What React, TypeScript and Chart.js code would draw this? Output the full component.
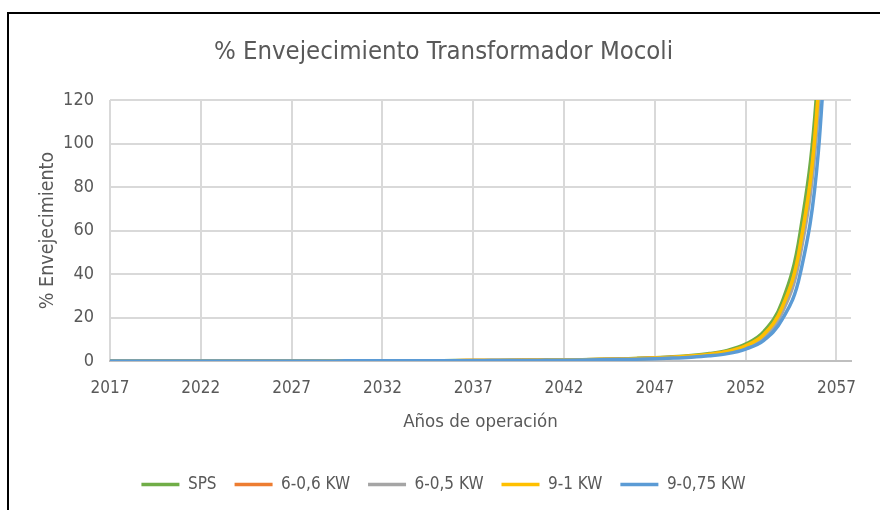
import React, { useEffect, useRef } from "react";
import { Chart, registerables } from "chart.js";

Chart.register(...registerables);

// Operating years on the horizontal axis
const YEARS = [
  2017, 2018, 2019, 2020, 2021, 2022, 2023, 2024, 2025, 2026,
  2027, 2028, 2029, 2030, 2031, 2032, 2033, 2034, 2035, 2036,
  2037, 2038, 2039, 2040, 2041, 2042, 2043, 2044, 2045, 2046,
  2047, 2048, 2049, 2050, 2051, 2052, 2053, 2054, 2055, 2056, 2057,
];

// Accumulated ageing (%) per scenario
const SPS = [
  0.01, 0.01, 0.01, 0.02, 0.02, 0.02, 0.03, 0.03, 0.04, 0.04,
  0.05, 0.06, 0.07, 0.08, 0.09, 0.10, 0.12, 0.14, 0.16, 0.19,
  0.22, 0.26, 0.30, 0.36, 0.43, 0.52, 0.63, 0.77, 0.95, 1.2,
  1.5, 1.9, 2.5, 3.4, 4.9, 7.8, 13.5, 27, 59, 135, 330,
];
const KW_6_06 = [
  0.01, 0.01, 0.01, 0.02, 0.02, 0.02, 0.03, 0.03, 0.03, 0.04,
  0.05, 0.05, 0.06, 0.07, 0.08, 0.09, 0.11, 0.13, 0.15, 0.17,
  0.20, 0.23, 0.27, 0.32, 0.38, 0.46, 0.56, 0.68, 0.84, 1.08,
  1.33, 1.68, 2.2, 3.05, 4.35, 6.9, 12, 24.2, 52.5, 123, 305,
];
const KW_6_05 = [
  0.01, 0.01, 0.01, 0.02, 0.02, 0.02, 0.02, 0.02, 0.03, 0.03,
  0.04, 0.05, 0.06, 0.07, 0.07, 0.08, 0.10, 0.11, 0.13, 0.16,
  0.18, 0.21, 0.25, 0.30, 0.35, 0.43, 0.52, 0.63, 0.78, 0.98,
  1.23, 1.56, 2.05, 2.8, 4.0, 6.4, 11.1, 22.2, 48.5, 116, 290,
];
const KW_9_1 = [
  0.01, 0.01, 0.01, 0.02, 0.02, 0.02, 0.03, 0.03, 0.03, 0.04,
  0.05, 0.05, 0.06, 0.07, 0.08, 0.09, 0.11, 0.13, 0.15, 0.17,
  0.20, 0.23, 0.27, 0.32, 0.39, 0.47, 0.57, 0.69, 0.85, 1.1,
  1.35, 1.7, 2.25, 3.1, 4.4, 7.0, 12.2, 24.5, 53, 124, 308,
];
const KW_9_075 = [
  0.01, 0.01, 0.01, 0.01, 0.01, 0.01, 0.02, 0.02, 0.03, 0.03,
  0.04, 0.04, 0.05, 0.06, 0.06, 0.07, 0.08, 0.10, 0.11, 0.13,
  0.15, 0.18, 0.21, 0.25, 0.30, 0.36, 0.44, 0.54, 0.67, 0.84,
  1.05, 1.33, 1.75, 2.4, 3.4, 5.5, 9.5, 19, 40, 96, 235,
];

const SERIES_NAMES = ["SPS", "6-0,6 KW", "6-0,5 KW", "9-1 KW", "9-0,75 KW"];
const SERIES_VALUES = [SPS, KW_6_06, KW_6_05, KW_9_1, KW_9_075];
const SERIES_COLORS = ["#70AD47", "#ED7D31", "#A5A5A5", "#FFC000", "#5B9BD5"];

const X_TICKS = [2017, 2022, 2027, 2032, 2037, 2042, 2047, 2052, 2057];
const Y_TICKS = [0, 20, 40, 60, 80, 100, 120];

const TITLE = "% Envejecimiento Transformador Mocoli";
const X_TITLE = "Años de operación";
const Y_TITLE = "% Envejecimiento";

const FONT = "'Liberation Sans Narrow', 'Arial Narrow', 'DejaVu Sans Condensed', sans-serif";
const TEXT = "#595959";
const GRID = "#d9d9d9";

// Black frame along the left and top edges of the chart object
const framePlugin = {
  id: "frame",
  afterDraw(chart: Chart) {
    const { ctx, width, height } = chart;
    ctx.save();
    ctx.fillStyle = "#000000";
    ctx.fillRect(7, 12, 2, height - 12);
    ctx.fillRect(7, 12, width - 7, 2);
    ctx.restore();
  },
};

export default function App() {
  const canvasRef = useRef<HTMLCanvasElement | null>(null);

  useEffect(() => {
    if (!canvasRef.current) return;
    const datasets = SERIES_NAMES.map((name, i) => ({
      label: name,
      data: YEARS.map((yr, j) => ({ x: yr, y: SERIES_VALUES[i][j] })),
      borderColor: SERIES_COLORS[i],
      backgroundColor: SERIES_COLORS[i],
      borderWidth: 3.5,
      pointRadius: 0,
      pointHoverRadius: 0,
      cubicInterpolationMode: "monotone" as const,
      fill: false,
      order: SERIES_NAMES.length - i,
    }));

    const chart = new Chart(canvasRef.current, {
      type: "line",
      data: { datasets },
      plugins: [framePlugin],
      options: {
        responsive: false,
        animation: false,
        layout: { padding: { left: 36, right: 29, top: 0, bottom: 7 } },
        plugins: {
          tooltip: { enabled: false },
          title: {
            display: true,
            text: TITLE,
            color: TEXT,
            font: { family: FONT, size: 25.5, weight: "normal" },
            padding: { top: 37, bottom: 32.4 },
          },
          legend: {
            position: "bottom",
            labels: {
              usePointStyle: true,
              pointStyle: "line",
              pointStyleWidth: 38,
              color: TEXT,
              font: { family: FONT, size: 17 },
              padding: 18,
              sort: (a: any, b: any) => a.datasetIndex - b.datasetIndex,
            },
          },
        },
        scales: {
          x: {
            type: "linear",
            min: 2017,
            max: 2057.8,
            afterBuildTicks: (s: any) => {
              s.ticks = X_TICKS.map((v) => ({ value: v }));
            },
            afterFit: (s: any) => {
              s.height = 97;
              s.paddingLeft = 0;
              s.paddingRight = 0;
            },
            grid: { color: GRID, lineWidth: 2, drawTicks: false },
            border: { color: "#bfbfbf", width: 2 },
            ticks: {
              color: TEXT,
              font: { family: FONT, size: 17 },
              padding: 17,
              maxRotation: 0,
              autoSkip: false,
              callback: (v: any) => String(v),
            },
            title: {
              display: true,
              text: X_TITLE,
              color: TEXT,
              font: { family: FONT, size: 18.5 },
              padding: { top: 0, bottom: 25 },
            },
          },
          y: {
            min: 0,
            max: 120,
            afterBuildTicks: (s: any) => {
              s.ticks = Y_TICKS.map((v) => ({ value: v }));
            },
            afterFit: (s: any) => {
              s.width = 74;
              s.paddingTop = 0;
              s.paddingBottom = 0;
            },
            grid: { color: GRID, lineWidth: 2, drawTicks: false },
            border: { display: false },
            ticks: {
              color: TEXT,
              font: { family: FONT, size: 18 },
              padding: 16,
              callback: (v: any) => String(v),
            },
            title: {
              display: true,
              text: Y_TITLE,
              color: TEXT,
              font: { family: FONT, size: 19.5 },
              padding: { top: 0, bottom: 0 },
            },
          },
        },
      },
    });
    return () => chart.destroy();
  }, []);

  return (
    <div style={{ position: "absolute", left: 0, top: 0, width: 880, height: 510, background: "#ffffff" }}>
      <canvas ref={canvasRef} width={880} height={510} style={{ display: "block" }} />
    </div>
  );
}
